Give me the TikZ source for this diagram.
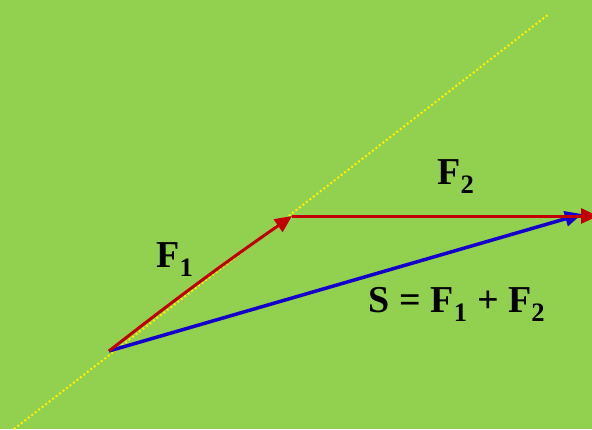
\documentclass[tikz,border=0pt]{standalone}
\usepackage{fontspec}
\setmainfont{Liberation Serif}
\usetikzlibrary{arrows.meta}
\definecolor{bggreen}{RGB}{146,208,80}
\definecolor{vecred}{RGB}{192,0,0}
\definecolor{vecblue}{RGB}{20,0,204}
\tikzset{
  vec/.style={line width=3pt, -{Triangle[length=17pt,width=15pt]}},
  lbl/.style={font=\fontsize{38}{40}\selectfont\bfseries, inner sep=0pt}
}

\begin{document}
\begin{tikzpicture}[x=1pt, y=-1pt]
  % background
  \fill[bggreen] (0,0) rectangle (592,429);
  \useasboundingbox (0,0) rectangle (592,429);
  % points
  \coordinate (O) at (109,351);
  \coordinate (A) at (292,216);
  \coordinate (B) at (598,216);
  \coordinate (S) at (582,214);
  \coordinate (low) at (14,429);
  \coordinate (high) at (549,14);
  % line of action of F1
  \draw[yellow, line width=2pt, dash pattern=on 2pt off 2.4pt] (low) -- (high);
  % sum
  \draw[vec, vecblue, line width=3.5pt] (O) -- (S);
  % the two forces
  \draw[vec, vecred] (O) to[bend left=1.5] (A);
  \draw[vec, vecred] (A) -- (B);
  % labels
  \node[lbl] (f1) at (175,260) {F\textsubscript{1}};
  \node[lbl] (f2) at (456,177) {F\textsubscript{2}};
  \node[lbl] (sum) at (457,304) {S = F\textsubscript{1} + F\textsubscript{2}};
\end{tikzpicture}
\end{document}
